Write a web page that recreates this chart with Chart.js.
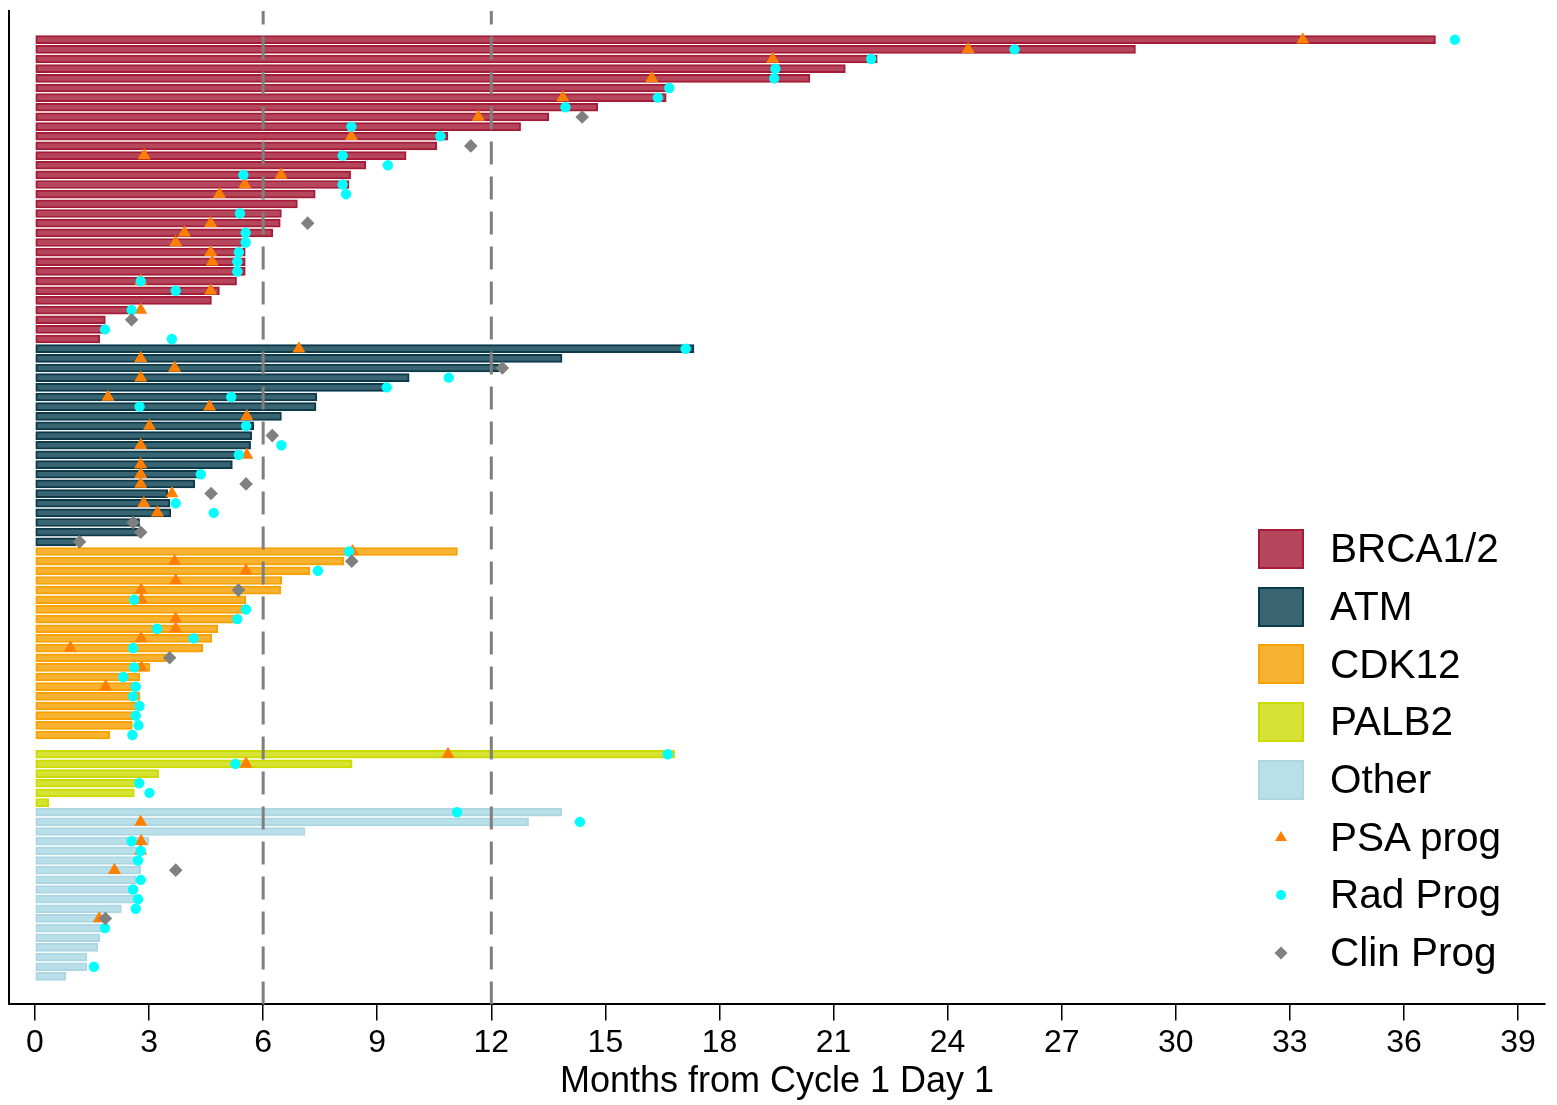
<!DOCTYPE html>
<html>
<head>
<meta charset="utf-8">
<script src="https://cdn.jsdelivr.net/npm/chart.js@4.4.1/dist/chart.umd.min.js"></script>
<style>
  body { margin: 0; background: #fff; }
  #wrap { position: relative; width: 1557px; height: 1105px; }
  #legend { position: absolute; left: 1258px; top: 520px; font-family: "Liberation Sans", Arial, sans-serif; font-size: 40.5px; color: #000; }
  .item { display: flex; align-items: center; height: 57.7px; white-space: nowrap; }
  .sw { width: 42px; height: 36px; border: 2px solid; margin-right: 26px; }
  .mk { width: 46px; height: 40px; margin-right: 26px; display: flex; align-items: center; justify-content: center; }
</style>
</head>
<body>
<div id="wrap">
  <canvas id="swimmer" width="1557" height="1105"></canvas>
  <div id="legend"></div>
</div>
<script>
const FONT = '"Liberation Sans", Arial, sans-serif'

// x axis ticks (months) and the two reference lines
const xTicks = [0, 3, 6, 9, 12, 15, 18, 21, 24, 27, 30, 33, 36, 39]
const refLines = [6, 12]

// one row per patient, months on treatment; markers are null where none
const brcaMonths = [36.83, 28.94, 22.15, 21.31, 20.38, 16.65, 16.6, 14.8, 13.51, 12.77, 10.86, 10.57, 9.76, 8.7, 8.3, 8.26,
  7.37, 6.9, 6.48, 6.45, 6.25, 5.51, 5.53, 5.53, 5.53, 5.3, 4.85, 4.64, 2.48, 1.85, 1.78, 1.7]
const brcaPsa = [33.34, 24.54, 19.4, null, 16.22, null, 13.88, null, 11.66, null, 8.32, null, 2.87, null, 6.47, 5.52,
  4.85, null, null, 4.62, 3.93, 3.7, 4.62, 4.66, null, 2.78, 4.62, null, 2.78, null, null, null]
const brcaRad = [37.34, 25.76, 21.99, 19.47, 19.44, 16.68, 16.38, 13.95, null, 8.32, 10.66, null, 8.09, 9.28, 5.48, 8.09,
  8.18, null, 5.39, null, 5.54, 5.54, 5.36, 5.32, 5.32, 2.78, 3.7, null, 2.54, null, 1.84, 3.6]
const brcaClin = [null, null, null, null, null, null, null, null, 14.39, null, null, 11.46, null, null, null, null,
  null, null, null, 7.17, null, null, null, null, null, null, null, null, null, 2.54, null, null]

const atmMonths = [17.33, 13.86, 12.2, 9.84, 9.19, 7.41, 7.39, 6.48, 5.75, 5.7, 5.67, 5.45, 5.19, 4.3, 4.2, 3.49, 3.55, 3.57, 2.75, 2.75, 1.08]
const atmPsa = [6.94, 2.78, 3.67, 2.78, null, 1.92, 4.59, 5.57, 3.01, null, 2.78, 5.57, 2.78, 2.78, 2.78, 3.6, 2.86, 3.22, null, null, null]
const atmRad = [17.11, null, null, 10.88, 9.25, 5.16, 2.75, null, 5.55, null, 6.48, 5.36, null, 4.36, null, null, 3.7, 4.7, null, null, null]
const atmClin = [null, null, 12.29, null, null, null, null, null, null, 6.24, null, null, null, null, 5.55, 4.63, null, null, 2.58, 2.78, 1.17]

const cdkMonths = [11.11, 8.12, 7.23, 6.49, 6.46, 5.54, 5.52, 5.31, 4.81, 4.65, 4.41, 3.45, 3.02, 2.76, 2.72, 2.76, 2.68, 2.64, 2.56, 1.97]
const cdkPsa = [8.35, 3.67, 5.55, 3.7, 2.79, 2.8, null, 3.7, 3.7, 2.79, 0.93, null, 2.8, null, 1.86, null, null, null, null, null]
const cdkRad = [8.26, null, 7.44, null, null, 2.61, 5.55, 5.32, 3.21, 4.17, 2.58, null, 2.61, 2.32, 2.65, 2.58, 2.75, 2.65, 2.72, 2.56]
const cdkClin = [null, 8.33, null, null, 5.35, null, null, null, null, null, null, 3.54, null, null, null, null, null, null, null, null]

const palbMonths = [16.82, 8.34, 3.25, 2.67, 2.61, 0.36]
const palbPsa = [10.86, 5.55, null, null, null, null]
const palbRad = [16.64, 5.27, null, 2.74, 3.01, null]
const palbClin = [null, null, null, null, null, null]

const otherMonths = [13.85, 12.98, 7.1, 2.99, 2.72, 2.66, 2.78, 2.66, 2.66, 2.66, 2.27, 1.72, 1.78, 1.7, 1.65, 1.36, 1.36, 0.81]
const otherPsa = [null, 2.78, null, 2.79, 2.78, null, 2.09, null, null, null, null, 1.69, null, null, null, null, null, null]
const otherRad = [11.1, 14.33, null, 2.54, 2.78, 2.71, null, 2.78, 2.58, 2.71, 2.65, null, 1.84, null, null, null, 1.55, null]
const otherClin = [null, null, null, null, null, null, 3.7, null, null, null, null, 1.85, null, null, null, null, null, null]

const groupNames = ['BRCA1/2', 'ATM', 'CDK12', 'PALB2', 'Other']
const groupMonths = [brcaMonths, atmMonths, cdkMonths, palbMonths, otherMonths]
const groupPsa = [brcaPsa, atmPsa, cdkPsa, palbPsa, otherPsa]
const groupRad = [brcaRad, atmRad, cdkRad, palbRad, otherRad]
const groupClin = [brcaClin, atmClin, cdkClin, palbClin, otherClin]
const gapRows = [0, 0, 1, 0, 0]

const fills = ['#b6465b', '#386571', '#f8b232', '#d6e335', '#b9dfe9']
const edges = ['#a51c38', '#0c3a4a', '#f7a200', '#cbdb00', '#acd6e3']

const datasets = []
const psaPts = [], radPts = [], clinPts = []
let row = 0
groupMonths.forEach((months, g) => {
    datasets.push({
        type: 'bar',
        label: groupNames[g],
        data: months.map((m, i) => ({ x: m, y: row + i })),
        backgroundColor: fills[g],
        borderColor: edges[g],
        borderWidth: 2,
        borderSkipped: false,
        barThickness: 8,
        grouped: false,
        order: 5
    })
    months.forEach((m, i) => {
        if (groupPsa[g][i] != null) psaPts.push({ x: groupPsa[g][i], y: row + i })
        if (groupRad[g][i] != null) radPts.push({ x: groupRad[g][i], y: row + i })
        if (groupClin[g][i] != null) clinPts.push({ x: groupClin[g][i], y: row + i })
    })
    row += months.length + gapRows[g]
})

const yMin = -2.97
const yMax = 99.9

refLines.forEach(v => {
    datasets.push({
        type: 'scatter',
        label: 'ref' + v,
        data: [{ x: v, y: yMax }, { x: v, y: yMin }],
        showLine: true,
        borderColor: '#7f7f7f',
        borderWidth: 3,
        borderDash: [23, 12],
        pointRadius: 0,
        order: 4
    })
})

const markers = [
    { label: 'PSA prog', data: psaPts, style: 'triangle', color: '#ff7f00', radius: 7.5, order: 3 },
    { label: 'Rad Prog', data: radPts, style: 'circle', color: '#00ffff', radius: 5.2, order: 2 },
    { label: 'Clin Prog', data: clinPts, style: 'rectRot', color: '#808080', radius: 6.8, order: 1 }
]
markers.forEach(mk => {
    datasets.push({
        type: 'scatter',
        label: mk.label,
        data: mk.data,
        pointStyle: mk.style,
        pointRadius: mk.radius,
        pointBackgroundColor: mk.color,
        pointBorderWidth: 0,
        order: mk.order
    })
})

const config = {
    type: 'bar',
    data: { datasets },
    options: {
        responsive: false,
        animation: false,
        indexAxis: 'y',
        layout: { padding: { left: 9, right: 12, top: 11, bottom: 1 } },
        plugins: { legend: { display: false }, tooltip: { enabled: false } },
        scales: {
            x: {
                type: 'linear',
                min: -0.684,
                max: 39.71,
                offset: false,
                afterBuildTicks: ax => { ax.ticks = xTicks.map(v => ({ value: v })) },
                ticks: { font: { size: 32, family: FONT }, color: '#000', padding: 4, autoSkip: false, maxRotation: 0 },
                grid: { display: true, drawOnChartArea: false, drawTicks: true, tickLength: 16, color: '#000', lineWidth: 1.5 },
                border: { display: true, color: '#000', width: 2 },
                title: { display: true, text: 'Months from Cycle 1 Day 1', font: { size: 36, family: FONT }, color: '#000', padding: { top: -6, bottom: 0 } }
            },
            y: {
                type: 'linear',
                reverse: true,
                offset: false,
                min: yMin,
                max: yMax,
                ticks: { display: false },
                grid: { display: false, drawTicks: false },
                border: { display: true, color: '#000', width: 2 }
            }
        }
    }
}

new Chart(document.getElementById('swimmer'), config)

// legend, drawn as html next to the plot
const legend = document.getElementById('legend')
groupNames.forEach((name, g) => {
    legend.insertAdjacentHTML('beforeend',
        `<div class="item"><div class="sw" style="background:${fills[g]};border-color:${edges[g]}"></div><span>${name}</span></div>`)
})
const shapes = {
    triangle: c => `<polygon points="23,14 29,24 17,24" fill="${c}"/>`,
    circle: c => `<circle cx="23" cy="20" r="5" fill="${c}"/>`,
    rectRot: c => `<polygon points="23,13.5 29.5,20 23,26.5 16.5,20" fill="${c}"/>`
}
markers.forEach(mk => {
    legend.insertAdjacentHTML('beforeend',
        `<div class="item"><div class="mk"><svg width="46" height="40">${shapes[mk.style](mk.color)}</svg></div><span>${mk.label}</span></div>`)
})
</script>
</body>
</html>
